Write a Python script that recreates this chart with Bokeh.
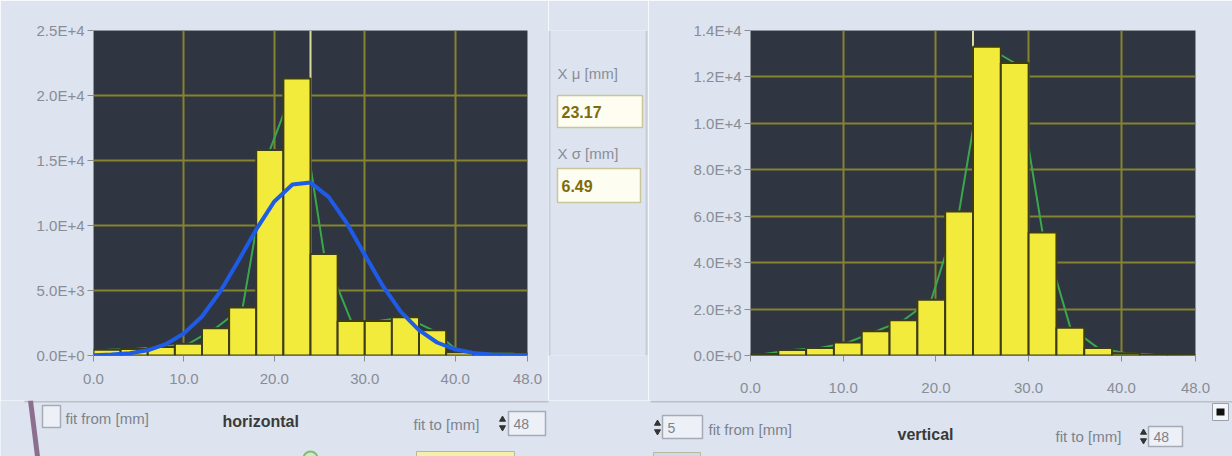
from bokeh.plotting import figure
from bokeh.layouts import row, column
from bokeh.models import Range1d, Span, FixedTicker
from bokeh.core.properties import value
from bokeh.embed import file_html
from bokeh.resources import INLINE

# ---------------- data ----------------
bin_left = [0, 3, 6, 9, 12, 15, 18, 21, 24, 27, 30, 33, 36, 39, 42, 45]
bin_width = 3
h_counts = [450, 500, 650, 900, 2100, 3700, 15800, 21300, 7800, 2650, 2650, 2950, 1950, 250, 150, 150]
v_counts = [60, 240, 320, 560, 1040, 1520, 2400, 6200, 13300, 12600, 5300, 1200, 320, 100, 30, 20]
fit_x = [0, 2, 4, 6, 8, 10, 12, 14, 16, 18, 20, 22, 24, 26, 28, 30, 32, 34, 36, 38, 40, 42, 44, 46, 48]
fit_y = [20, 70, 170, 400, 870, 1700, 3000, 4900, 7250, 9700, 11850, 13150, 13300, 12200, 10200,
         7750, 5350, 3350, 1950, 1000, 480, 200, 80, 30, 10]
cursor_x = 24

x_ticks = [0, 10, 20, 30, 40, 48]
x_tick_labels = ["0.0", "10.0", "20.0", "30.0", "40.0", "48.0"]
h_y_ticks = [0, 5000, 10000, 15000, 20000, 25000]
h_y_labels = ["0.0E+0", "5.0E+3", "1.0E+4", "1.5E+4", "2.0E+4", "2.5E+4"]
v_y_ticks = [0, 2000, 4000, 6000, 8000, 10000, 12000, 14000]
v_y_labels = ["0.0E+0", "2.0E+3", "4.0E+3", "6.0E+3", "8.0E+3", "1.0E+4", "1.2E+4", "1.4E+4"]

mu_label, mu_value = "X \u03bc [mm]", "23.17"
sigma_label, sigma_value = "X \u03c3 [mm]", "6.49"
h_title, v_title = "horizontal", "vertical"
fit_from_label, fit_to_label = "fit from [mm]", "fit to [mm]"
h_fit_to, v_fit_from, v_fit_to = "48", "5", "48"

# ---------------- styles ----------------
PANEL = "#dde4ef"
DARK = "#2f3541"
GRID = "#86832e"
BAR = "#f3eb3c"
BAR_EDGE = "#3c3c18"
GREEN = "#3aa84a"
BLUE = "#1e5ce8"
CURSOR = "#dcdb9c"
LABEL = "#898d97"
FONT = "Liberation Sans"
TOP_H = 400
FRAME_TOP = 30
FRAME_BOTTOM = 45

centers = [b + bin_width / 2 for b in bin_left]


def chart(width, counts, yticks, ylabels, ymax, left_border, right_border, xstand):
    p = figure(width=width, height=TOP_H, x_range=Range1d(0, 48), y_range=Range1d(0, ymax),
               toolbar_location=None, output_backend="svg",
               min_border_left=left_border, min_border_right=right_border,
               min_border_top=FRAME_TOP, min_border_bottom=FRAME_BOTTOM)
    p.background_fill_color = DARK
    p.border_fill_color = PANEL
    p.outline_line_color = None
    p.xaxis.ticker = FixedTicker(ticks=x_ticks)
    p.xaxis.major_label_overrides = dict(zip(x_ticks, x_tick_labels))
    p.yaxis.ticker = FixedTicker(ticks=yticks)
    p.yaxis.major_label_overrides = dict(zip(yticks, ylabels))
    p.xgrid.ticker = FixedTicker(ticks=x_ticks)
    p.ygrid.ticker = FixedTicker(ticks=yticks)
    p.grid.grid_line_color = GRID
    p.grid.grid_line_width = 2
    for ax in (p.xaxis, p.yaxis):
        ax.axis_line_color = None
        ax.major_tick_line_color = LABEL
        ax.major_tick_out = 6
        ax.major_tick_in = 0
        ax.minor_tick_line_color = None
        ax.major_label_text_color = LABEL
        ax.major_label_text_font = FONT
        ax.major_label_text_font_size = "15px"
    p.xaxis.major_label_standoff = xstand
    p.yaxis.major_label_standoff = 3
    p.add_layout(Span(location=cursor_x, dimension="height", line_color=CURSOR,
                      line_width=2, level="underlay"))
    p.line(centers, counts, line_color=GREEN, line_width=2)
    p.vbar(x=centers, width=bin_width, top=counts, bottom=0,
           fill_color=BAR, line_color=BAR_EDGE, line_width=2)
    return p


left = chart(548, h_counts, h_y_ticks, h_y_labels, 25000, 93, 21, 12)
left.line(fit_x, fit_y, line_color=BLUE, line_width=4, line_join="round")

right = chart(584, v_counts, v_y_ticks, v_y_labels, 14000, 102, 37, 21)


def canvas(width, height, top=0, bottom=0):
    # pixel-space drawing area; its frame spans canvas rows top..height-bottom
    p = figure(width=width, height=height, x_range=Range1d(0, width),
               y_range=Range1d(height - bottom, top),
               toolbar_location=None, output_backend="svg", x_axis_location=None,
               y_axis_location=None, min_border=0)
    p.min_border_left = p.min_border_right = 0
    p.min_border_top = top
    p.min_border_bottom = bottom
    p.grid.visible = False
    p.background_fill_color = PANEL
    p.border_fill_color = PANEL
    p.outline_line_color = None
    return p


# middle column with fitted parameters (frame aligned with the charts' frames)
mid = canvas(100, TOP_H, FRAME_TOP, FRAME_BOTTOM)
mid.segment(x0=[1, 98], y0=[FRAME_TOP, FRAME_TOP], x1=[1, 98], y1=[TOP_H, TOP_H],
            line_color="#c6cdd9", line_width=2)
mid.quad(left=[9, 9], right=[94, 92], top=[95, 168], bottom=[127, 202],
         fill_color="#fdfdf2", line_color="#c9c79a", line_width=1.5)
mid.text(x=[9, 9], y=[73, 153], text=[mu_label, sigma_label], text_font=value(FONT),
         text_font_size=value("15px"), text_color=LABEL, text_baseline="middle")
mid.text(x=[13, 13], y=[111, 185], text=[mu_value, sigma_value], text_font=value(FONT),
         text_font_size=value("16px"), text_font_style="bold", text_color="#7d6c0c",
         text_baseline="middle")

# bottom strip with fit controls
ui = canvas(1232, 456 - TOP_H)
ui.segment(x0=[24, 650], y0=[1, 1], x1=[548, 1232], y1=[1, 1], line_color="#b9c0cc", line_width=2)
ui.segment(x0=[30], y0=[0], x1=[37], y1=[56], line_color="#8c6f8f", line_width=5)
ui.quad(left=[42, 508, 662, 1148], right=[60, 545, 702, 1182], top=[5, 11, 15, 26],
        bottom=[27, 35, 38, 46], fill_color="#edf1f7", line_color="#a5abb6", line_width=1.5)
ui.quad(left=[416, 653], right=[514, 700], top=[51, 52], bottom=[58, 58],
        fill_color=["#f3f1a8", "#d3d9e4"], line_color="#b5b9a0", line_width=1)
ui.quad(left=[1212], right=[1228], top=[3], bottom=[20], fill_color="#f4f6fa",
        line_color="#9aa0aa", line_width=1)
ui.quad(left=[1216], right=[1224], top=[8], bottom=[15], fill_color="#111111", line_color=None)
ui.scatter(x=[502, 657, 1143], y=[19, 23, 32], marker="triangle", size=6, color="#333333")
ui.scatter(x=[502, 657, 1143], y=[27, 31, 40], marker="inverted_triangle", size=6, color="#333333")
ui.scatter(x=[310], y=[58], marker="circle", size=14, fill_color="#d8e6c8", line_color="#7cc070",
           line_width=2)
ui.text(x=[65, 413, 708, 1055], y=[18, 24, 29, 36],
        text=[fit_from_label, fit_to_label, fit_from_label, fit_to_label],
        text_font=value(FONT), text_font_size=value("15px"), text_color="#7e828c",
        text_baseline="middle")
ui.text(x=[513, 667, 1153], y=[23, 27, 36], text=[h_fit_to, v_fit_from, v_fit_to],
        text_font=value(FONT), text_font_size=value("14px"), text_color="#7e828c",
        text_baseline="middle")
ui.text(x=[222, 897], y=[21, 34], text=[h_title, v_title], text_font=value(FONT),
        text_font_size=value("16px"), text_font_style="bold", text_color="#3a3a3a",
        text_baseline="middle")

layout = column(row(left, mid, right), ui)
open("out.html", "w").write(file_html(layout, INLINE))
